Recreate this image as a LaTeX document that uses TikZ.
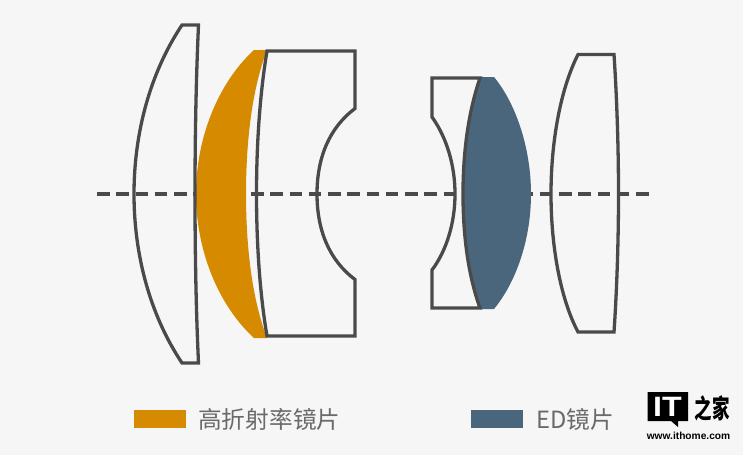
\documentclass[tikz,border=0pt]{standalone}
\usepackage{fontspec}
\setmainfont{Liberation Sans}
\newfontfamily\cjk{Noto Sans CJK SC}
\definecolor{bgc}{HTML}{F6F6F6}
\definecolor{linec}{HTML}{4A4A4A}
\definecolor{orangec}{HTML}{D58A00}
\definecolor{bluec}{HTML}{4A667D}
\definecolor{textc}{HTML}{6A6A6A}
\tikzset{
  lens/.style={draw=linec,line width=3.3pt,line join=miter},
  axis/.style={draw=linec,line width=3.3pt,dash pattern=on 12.5pt off 6.75pt},
  legendtext/.style={text=textc,anchor=west,inner sep=0pt,font=\cjk\fontsize{23.7}{25}\selectfont},
}
\begin{document}
\begin{tikzpicture}[x=1pt,y=-1pt]
\path[use as bounding box,fill=bgc] (0,0) rectangle (743,455);
% axis
\draw[axis] (97,194) -- (651,194);
% coloured elements
\fill[orangec] (254,50) -- (267,50) .. controls (251,92) and (246,146) .. (246,194)
  .. controls (246,242) and (251,296) .. (267,338) -- (254,338)
  .. controls (218,305) and (196,250) .. (196,194)
  .. controls (196,138) and (218,83) .. (254,50) -- cycle;
\fill[bluec] (480,77) -- (494,77) .. controls (517,105) and (531,150) .. (531,194)
  .. controls (531,238) and (517,281) .. (494,309) -- (480,309)
  .. controls (468,275) and (463,235) .. (463,194)
  .. controls (463,153) and (468,113) .. (480,77) -- cycle;
% outlined elements
\draw[lens] (182,25) -- (198.5,25) .. controls (196,80) and (195,140) .. (195,194)
  .. controls (195,250) and (196,310) .. (198.5,363) -- (182,363)
  .. controls (150,315) and (134,255) .. (134,194)
  .. controls (134,133) and (150,73) .. (182,25) -- cycle;
\draw[lens] (267,51) -- (355,51) -- (355,108.5)
  .. controls (329,128) and (317,158) .. (317,194)
  .. controls (317,230) and (329,260) .. (355,279.5)
  -- (355,336) -- (267,336)
  .. controls (260,295) and (256.5,245) .. (256.5,194)
  .. controls (256.5,143) and (260,93) .. (267,51) -- cycle;
\draw[lens] (432,78) -- (480,78) .. controls (468,113) and (463,153) .. (463,194)
  .. controls (463,235) and (468,275) .. (480,308) -- (432,308) -- (432,270)
  .. controls (447,250) and (455,222) .. (455,194)
  .. controls (455,166) and (447,138) .. (432,117) -- cycle;
\draw[lens] (578,54.5) -- (614,54.5) .. controls (617,100) and (618.5,150) .. (618.5,194)
  .. controls (618.5,238) and (617,288) .. (614,332) -- (578,332)
  .. controls (560,298) and (551,245) .. (551,194)
  .. controls (551,143) and (560,90) .. (578,54.5) -- cycle;
% legend
\fill[orangec] (134,410) rectangle (186,428);
\node[legendtext] (lgA) at (198,419) {高折射率镜片};
\fill[bluec] (471,410) rectangle (523,428);
\node[legendtext] (lgB) at (536,419) {ED镜片};
% logo
\fill[black] (647.5,392) -- (688,392) -- (688,421) -- (678,421) -- (678,427) -- (671,421) -- (647.5,421) -- cycle;
\node[text=white,inner sep=0pt,xscale=1.15,font=\bfseries\fontsize{28}{28}\selectfont] (logoIT) at (667.5,406.5) {IT};
\node[text=black,inner sep=0pt,yscale=1.5,font=\cjk\bfseries\fontsize{17.5}{18}\selectfont] (logoZ) at (712,408) {之家};
\node[text=black,inner sep=0pt,font=\bfseries\fontsize{10.2}{11}\selectfont] (logoW) at (688.5,435.5) {www.ithome.com};
\end{tikzpicture}
\end{document}
